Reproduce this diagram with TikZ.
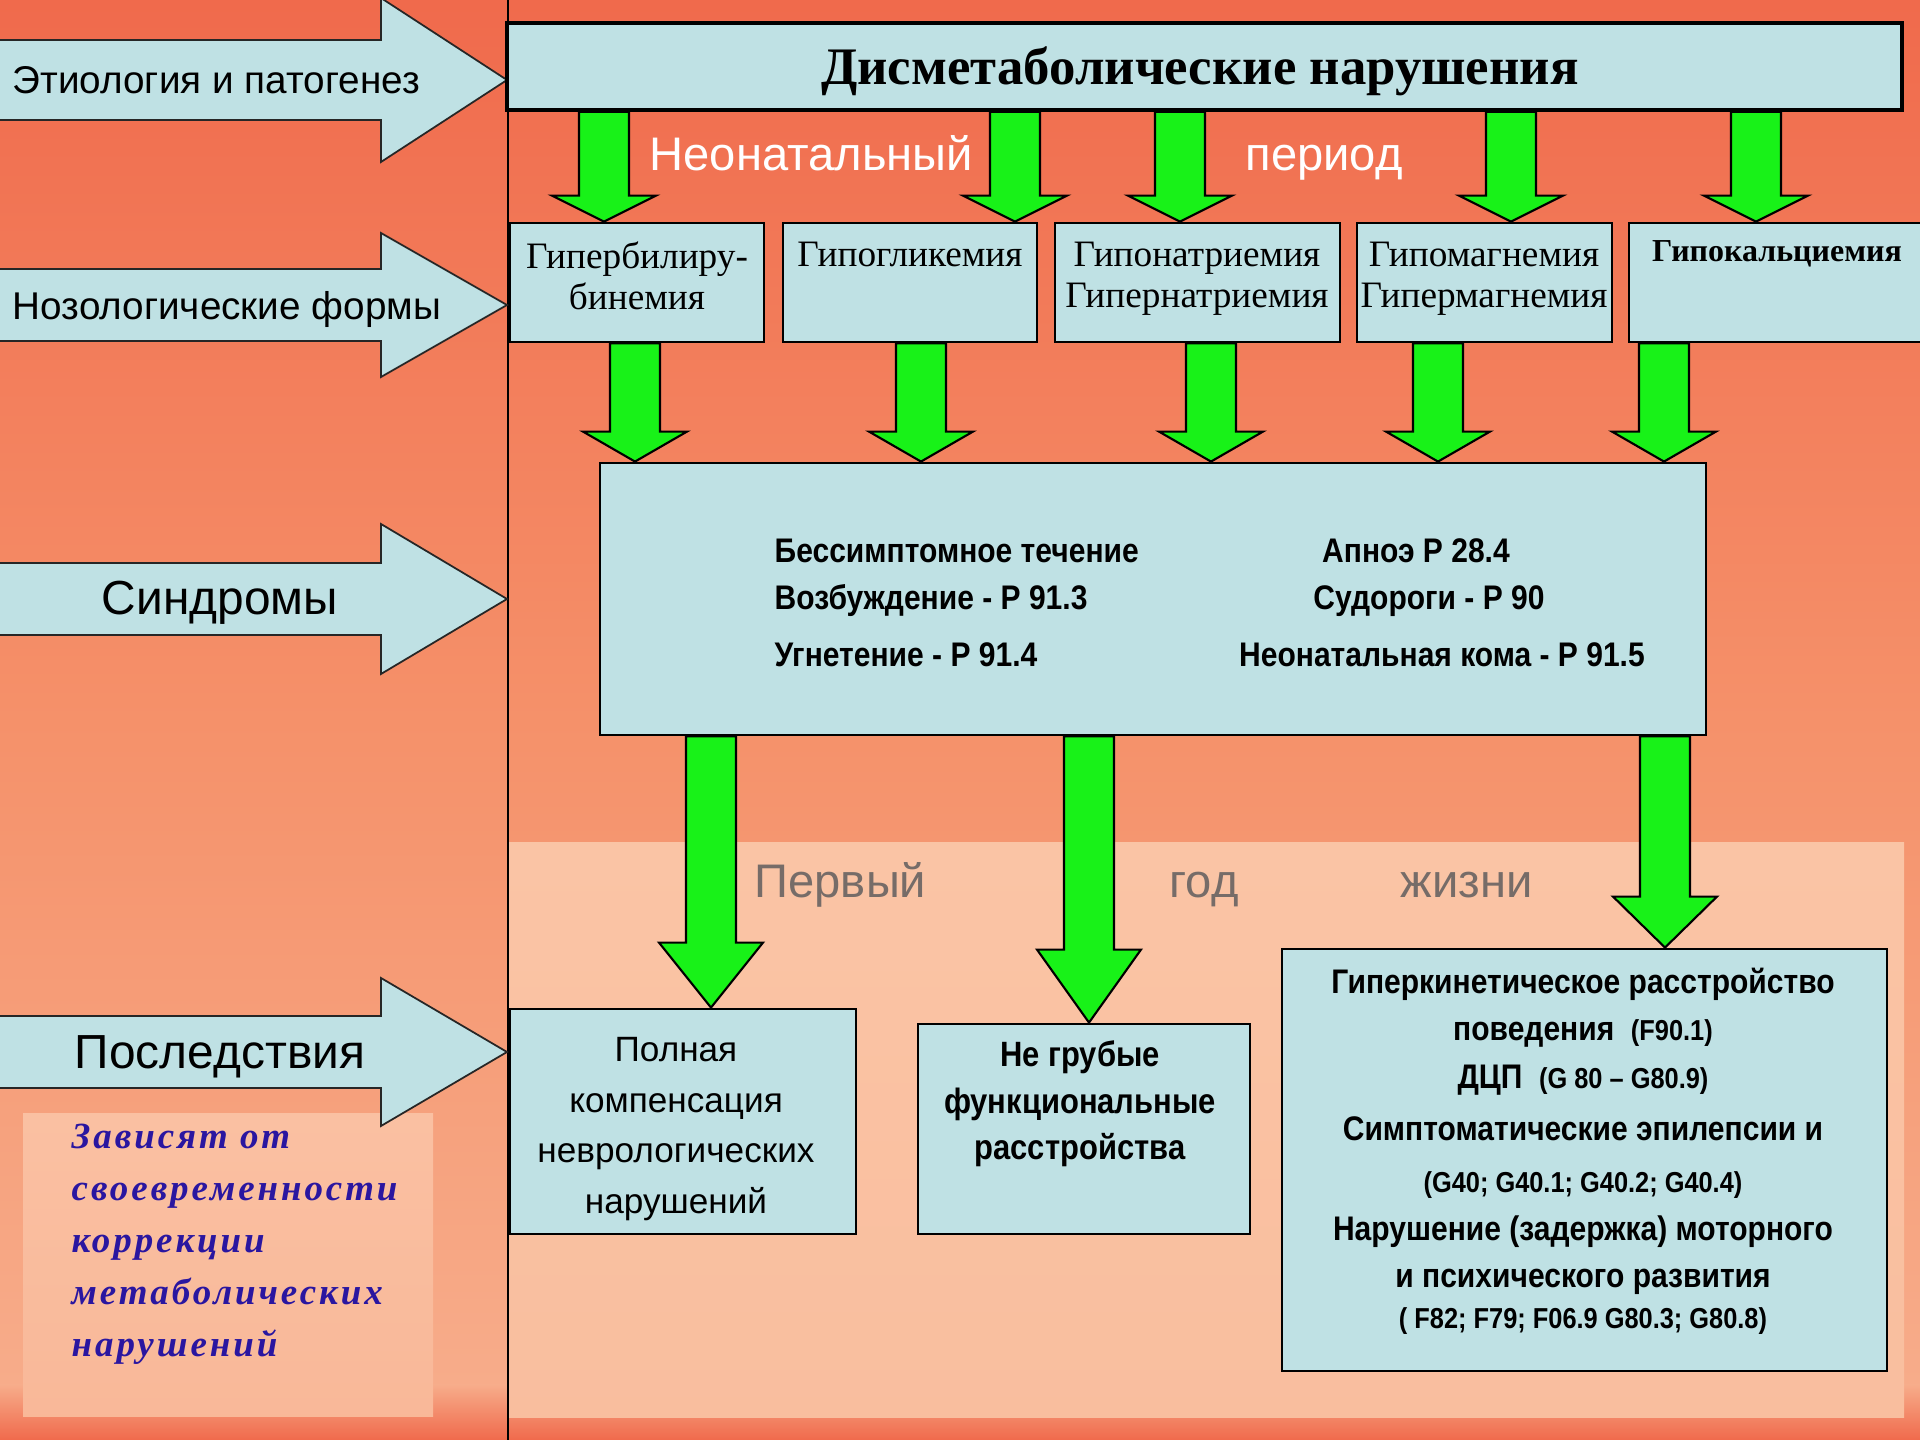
\documentclass[tikz,border=0pt]{standalone}
\usepackage{fontspec}
\setmainfont{Liberation Serif}
\setsansfont{Liberation Sans}
\newfontfamily\narrowsf[FakeStretch=0.88]{Liberation Sans}
\usetikzlibrary{positioning, fit, calc}

\definecolor{boxblue}{RGB}{191,225,228}
\definecolor{arrowgreen}{RGB}{24,242,24}
\definecolor{bgtop}{RGB}{240,106,76}
\definecolor{bgmid}{RGB}{245,145,106}
\definecolor{bglow}{RGB}{247,172,138}
\definecolor{bandpeach}{RGB}{250,196,165}
\definecolor{notepeach}{RGB}{250,192,162}
\definecolor{noteblue}{RGB}{42,22,160}
\definecolor{periodgrey}{RGB}{118,108,104}

\newcommand{\codefont}{\fontsize{8.2pt}{10pt}\selectfont}

% block arrow pointing right, towards the vertical line
\newcommand{\sidearrow}[3]{%
  \draw[sidestyle] (-5,#1-#2) -- (381,#1-#2) -- (381,#1-#3) -- (507,#1)
    -- (381,#1+#3) -- (381,#1+#2) -- (-5,#1+#2) -- cycle;}

% green block arrow: x, from node, to node, head length
\newcommand{\greenarrow}[4]{%
  \coordinate (ga) at (#1,0);
  \draw[greenstyle] ($(#2.south -| ga)+(-25,0)$) -- ($(#3.north -| ga)+(-25,-#4)$)
    -- ($(#3.north -| ga)+(-52,-#4)$) -- (#3.north -| ga) -- ($(#3.north -| ga)+(52,-#4)$)
    -- ($(#3.north -| ga)+(25,-#4)$) -- ($(#2.south -| ga)+(25,0)$) -- cycle;}

\begin{document}
\begin{tikzpicture}[x=0.01cm, y=-0.01cm,
  box/.style = {draw=black, line width=0.8pt, fill=boxblue, inner sep=0pt},
  sidestyle/.style = {draw=black!85, line width=0.5pt, fill=boxblue},
  greenstyle/.style = {draw=black, line width=0.6pt, fill=arrowgreen},
  sidelabel/.style = {font=\sffamily\fontsize{11pt}{13pt}\selectfont, inner sep=0pt},
  biglabel/.style = {font=\sffamily\fontsize{13.6pt}{16pt}\selectfont, inner sep=0pt, anchor=base},
  periodlabel/.style = {font=\sffamily\fontsize{13.4pt}{16pt}\selectfont, anchor=base west, inner sep=0pt},
  nosotext/.style = {font=\fontsize{10.6pt}{11.8pt}\selectfont, align=center, anchor=north, inner sep=0pt},
  syndtext/.style = {font=\narrowsf\bfseries\fontsize{9.7pt}{12pt}\selectfont, inner sep=0pt},
  restext/.style = {align=center, inner sep=0pt}
]
\useasboundingbox (0,0) rectangle (1920,1440);

% background
\shade[top color=bgtop, bottom color=bgmid] (0,0) rectangle (1920,720);
\shade[top color=bgmid, bottom color=bglow] (0,720) rectangle (1920,1385);
\shade[top color=bglow, bottom color=bgtop] (0,1385) rectangle (1920,1440);
\shade[top color=bandpeach, bottom color=bandpeach!75!bglow] (508,843) rectangle (1904,1418);
\shade[top color=notepeach, bottom color=notepeach!60!bglow] (23,1114) rectangle (433,1417);
\draw[line width=0.6pt] (508,0) -- (508,1440);

% left arrows
\sidearrow{80}{40}{82}
\sidearrow{305}{36}{72}
\sidearrow{599}{36}{75}
\sidearrow{1052}{36}{74}
\node[sidelabel, anchor=base west] (etio) at (12,94) {Этиология и патогенез};
\node[sidelabel, anchor=base west] (nozo) at (12,320) {Нозологические формы};
\node[biglabel] (sindr) at (220,615) {Синдромы};
\node[biglabel] (posl) at (220,1069) {Последствия};

% header
\node[box, line width=1.1pt, fit={(507,23) (1902,110)}] (nh) {};
\node[font=\bfseries\fontsize{15pt}{18pt}\selectfont, inner sep=0pt] (nhtxt) at (1200,71) {Дисметаболические нарушения};

% nosological forms
\node[box, fit={(510,223) (764,342)}] (nb1) {};
\node[box, fit={(783,223) (1037,342)}] (nb2) {};
\node[box, fit={(1055,223) (1340,342)}] (nb3) {};
\node[box, fit={(1357,223) (1612,342)}] (nb4) {};
\node[box, fit={(1629,223) (1935,342)}] (nb5) {};
\node[nosotext] (nb1txt) at (637,241) {Гипербилиру-\\бинемия};
\node[nosotext] (nb2txt) at (910,241) {Гипогликемия};
\node[nosotext] (nb3txt) at (1197,241) {Гипонатриемия\\Гипернатриемия};
\node[nosotext] (nb4txt) at (1484,241) {Гипомагнемия\\Гипермагнемия};
\node[nosotext, font=\bfseries\fontsize{9.1pt}{11pt}\selectfont] (nb5txt) at (1777,240) {Гипокальциемия};

\node[periodlabel, text=white] (neo1) at (649,171) {Неонатальный};
\node[periodlabel, text=white] (neo2) at (1245,171) {период};

% syndromes
\node[box, fit={(600,463) (1706,735)}] (synd) {};
\node[syndtext, anchor=west] (s1) at (774,551) {Бессимптомное течение};
\node[syndtext, anchor=west] (s2) at (774,601) {Возбуждение - Р 91.3};
\node[syndtext, anchor=west] (s3) at (774,655) {Угнетение - Р 91.4};
\node[syndtext] (s4) at (1416,551) {Апноэ Р 28.4};
\node[syndtext] (s5) at (1429,601) {Судороги - Р 90};
\node[syndtext] (s6) at (1442,655) {Неонатальная кома - Р 91.5};

\node[periodlabel, text=periodgrey] (yr1) at (754,898) {Первый};
\node[periodlabel, text=periodgrey] (yr2) at (1169,898) {год};
\node[periodlabel, text=periodgrey] (yr3) at (1400,898) {жизни};

% outcomes
\node[box, fit={(510,1009) (856,1234)}] (resA) {};
\node[box, fit={(918,1024) (1250,1234)}] (resB) {};
\node[box, fit={(1282,949) (1887,1371)}] (resC) {};
\node[restext, font=\sffamily\fontsize{10pt}{14.4pt}\selectfont] (resAtxt) at (676,1129)
  {Полная\\компенсация\\неврологических\\нарушений};
\node[restext, font=\narrowsf\bfseries\fontsize{10pt}{13.2pt}\selectfont] (resBtxt) at (1080,1104)
  {Не грубые\\функциональные\\расстройства};
\node[restext, font=\narrowsf\bfseries\fontsize{9.7pt}{13.5pt}\selectfont] (resCtxt) at (1583,1151)
  {Гиперкинетическое расстройство\\
   поведения \ {\codefont(F90.1)}\\
   ДЦП \ {\codefont(G 80 – G80.9)}\\[1.4pt]
   Симптоматические эпилепсии и\\[1.4pt]
   {\codefont(G40; G40.1; G40.2; G40.4)}\\
   Нарушение (задержка) моторного\\
   и психического развития\\[-2pt]
   {\codefont( F82; F79; F06.9 G80.3; G80.8)}};

\node[anchor=north west, align=left, inner sep=0pt, text=noteblue,
  font=\fontsize{10.5pt}{14.8pt}\selectfont\bfseries\itshape\addfontfeature{LetterSpace=8}] (note) at (71,1123)
  {Зависят от\\своевременности\\коррекции\\метаболических\\нарушений};

% green arrows
\greenarrow{604}{nh}{nb1}{26}
\greenarrow{1015}{nh}{nb2}{26}
\greenarrow{1180}{nh}{nb3}{26}
\greenarrow{1511}{nh}{nb4}{26}
\greenarrow{1756}{nh}{nb5}{26}
\greenarrow{635}{nb1}{synd}{30}
\greenarrow{921}{nb2}{synd}{30}
\greenarrow{1211}{nb3}{synd}{30}
\greenarrow{1438}{nb4}{synd}{30}
\greenarrow{1664}{nb5}{synd}{30}
\greenarrow{711}{synd}{resA}{65}
\greenarrow{1089}{synd}{resB}{73}
\greenarrow{1665}{synd}{resC}{51}
\end{tikzpicture}
\end{document}
